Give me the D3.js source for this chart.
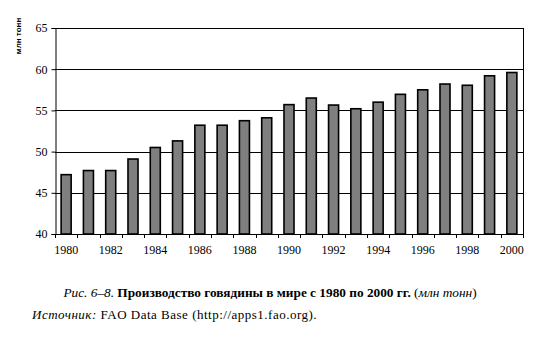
<!DOCTYPE html>
<html>
<head>
<meta charset="utf-8">
<script src="https://cdn.jsdelivr.net/npm/d3@7"></script>
<style>
  body { margin: 0; background: #fff; }
  svg { display: block; }
</style>
</head>
<body>
<svg id="chart" width="542" height="343"></svg>
<script>
// World beef production, million tonnes
const years = [1980, 1981, 1982, 1983, 1984, 1985, 1986, 1987, 1988, 1989, 1990,
               1991, 1992, 1993, 1994, 1995, 1996, 1997, 1998, 1999, 2000];
const production = [47.2, 47.7, 47.7, 49.1, 50.5, 51.3, 53.2, 53.2, 53.75, 54.1, 55.7,
                    56.5, 55.65, 55.2, 56.0, 56.95, 57.5, 58.2, 58.05, 59.2, 59.6];
const yTicks = [40, 45, 50, 55, 60, 65];
const xLabelYears = [1980, 1982, 1984, 1986, 1988, 1990, 1992, 1994, 1996, 1998, 2000];

const svg = d3.select("#chart");
const plotLeft = 55, plotRight = 523, plotTop = 28, plotBottom = 234;

const x = d3.scaleBand().domain(years).range([plotLeft, plotRight]).paddingInner(0.55).paddingOuter(0.275);
const y = d3.scaleLinear().domain([40, 65]).range([plotBottom, plotTop]);

const serif = "'Liberation Serif', 'Times New Roman', serif";

// horizontal grid lines
svg.append("g").selectAll("line").data(yTicks.filter(v => v > 40)).join("line")
  .attr("x1", plotLeft).attr("x2", plotRight)
  .attr("y1", d => Math.round(y(d)) + 0.5).attr("y2", d => Math.round(y(d)) + 0.5)
  .attr("stroke", "#000").attr("stroke-width", 1);

// right border of the plot area
svg.append("line")
  .attr("x1", plotRight + 0.5).attr("x2", plotRight + 0.5)
  .attr("y1", plotTop).attr("y2", plotBottom)
  .attr("stroke", "#000").attr("stroke-width", 1);

// bars
svg.append("g").selectAll("rect").data(years).join("rect")
  .attr("x", d => x(d))
  .attr("width", x.bandwidth())
  .attr("y", (d, i) => y(production[i]))
  .attr("height", (d, i) => y(40) - y(production[i]))
  .attr("fill", "#7f7f7f")
  .attr("stroke", "#000")
  .attr("stroke-width", 1.6);

// y axis
const yAxis = d3.axisLeft(y).tickValues(yTicks).tickSize(4).tickPadding(4).tickFormat(d3.format("d"));
const gy = svg.append("g").attr("transform", `translate(${plotLeft + 0.5},0)`).call(yAxis);
gy.attr("font-family", serif).attr("font-size", 12);
gy.select(".domain").attr("stroke", "#000");
gy.selectAll("text").attr("fill", "#000");

// x axis: ticks at band boundaries, labels every second year
const boundaries = d3.range(years.length + 1).map(i => plotLeft + i * (plotRight - plotLeft) / years.length);
const gx = svg.append("g").attr("font-family", serif).attr("font-size", 12);
gx.append("line").attr("x1", plotLeft).attr("x2", plotRight + 0.5)
  .attr("y1", plotBottom + 0.5).attr("y2", plotBottom + 0.5).attr("stroke", "#000");
gx.selectAll("line.tick").data(boundaries).join("line").attr("class", "tick")
  .attr("x1", d => Math.round(d) + 0.5).attr("x2", d => Math.round(d) + 0.5)
  .attr("y1", plotBottom).attr("y2", plotBottom + 4).attr("stroke", "#000");
gx.selectAll("text").data(xLabelYears).join("text")
  .attr("x", d => x(d) + x.bandwidth() / 2)
  .attr("y", 254)
  .attr("text-anchor", "middle")
  .text(d => d);

// unit label
svg.append("text")
  .attr("transform", "translate(21,36) rotate(-90)")
  .attr("text-anchor", "middle")
  .attr("font-family", "'Liberation Sans', Arial, sans-serif")
  .attr("font-size", 8).attr("font-weight", "bold")
  .text("млн тонн");

// caption
const cap = svg.append("text").attr("x", 270).attr("y", 297)
  .attr("text-anchor", "middle")
  .attr("font-family", serif).attr("font-size", 13.3);
cap.append("tspan").attr("font-style", "italic").text("Рис. 6–8. ");
cap.append("tspan").attr("font-weight", "bold").text("Производство говядины в мире с 1980 по 2000 гг. ");
cap.append("tspan").text("(");
cap.append("tspan").attr("font-style", "italic").text("млн тонн");
cap.append("tspan").text(")");

const src = svg.append("text").attr("x", 32).attr("y", 319)
  .attr("font-family", serif).attr("font-size", 13).attr("letter-spacing", 0.5);
src.append("tspan").attr("font-style", "italic").text("Источник:");
src.append("tspan").text(" FAO Data Base (http://apps1.fao.org).");
</script>
</body>
</html>
